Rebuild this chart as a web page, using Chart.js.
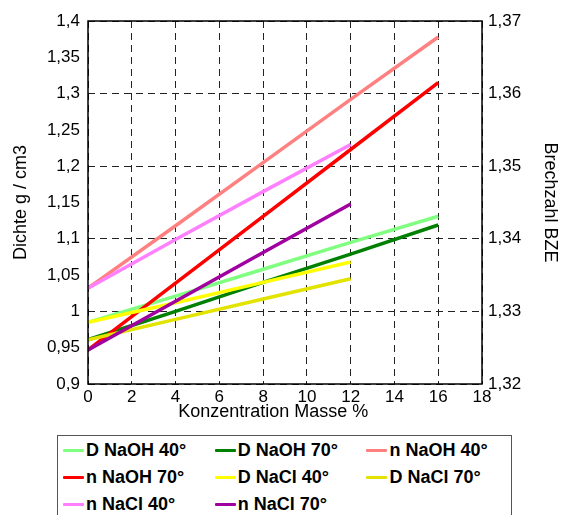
<!DOCTYPE html>
<html>
<head>
<meta charset="utf-8">
<script src="https://cdn.jsdelivr.net/npm/chart.js@4/dist/chart.umd.min.js"></script>
<style>
  html, body { margin: 0; padding: 0; background: #fff; }
  #wrap { position: relative; width: 561px; height: 515px; overflow: hidden; background: #fff; }
  #chart { position: absolute; left: 0; top: 0; }
  #legend {
    position: absolute; left: 57px; top: 435px; width: 455px; height: 110px;
    border: 1px solid #555; box-sizing: border-box;
    font-family: "Liberation Sans", Arial, sans-serif; font-weight: bold; font-size: 18px; color: #000;
  }
  .item { position: absolute; display: flex; align-items: center; height: 22px; white-space: nowrap; }
  .swatch { width: 21px; height: 3px; margin-right: 2px; border-radius: 1px; }
</style>
</head>
<body>
<div id="wrap">
  <canvas id="chart" width="561" height="435"></canvas>
  <div id="legend"></div>
</div>
<script>
// Concentration (mass %) at which each series was measured
const concNaOH = [0, 4, 8, 12, 16];
const concNaCl = [0, 4, 8, 12];

// Density g/cm3 (left axis)
const dNaOH40 = [0.985, 1.021, 1.058, 1.095, 1.131];
const dNaOH70 = [0.961, 1.000, 1.040, 1.079, 1.119];
const dNaCl40 = [0.985, 1.012, 1.040, 1.068];
const dNaCl70 = [0.961, 0.989, 1.017, 1.045];

// Refractive index BZE (right axis)
const nNaOH40 = [1.3332, 1.3418, 1.3505, 1.3592, 1.3678];
const nNaOH70 = [1.3247, 1.3339, 1.3431, 1.3523, 1.3615];
const nNaCl40 = [1.3332, 1.3399, 1.3465, 1.3530];
const nNaCl70 = [1.3247, 1.3314, 1.3381, 1.3448];

const seriesNames = ['D NaOH 40°', 'D NaOH 70°', 'n NaOH 40°', 'n NaOH 70°',
                     'D NaCl 40°', 'D NaCl 70°', 'n NaCl 40°', 'n NaCl 70°'];
const seriesColors = ['#80ff80', '#008000', '#ff8080', '#ff0000',
                      '#ffff00', '#e3e300', '#ff80ff', '#a000a0'];

const xLabels = [0, 2, 4, 6, 8, 10, 12, 14, 16, 18];
const xTitle = 'Konzentration Masse %';

function pts(xs, ys) { return xs.map((x, i) => ({ x: x, y: ys[i] })); }

const seriesData = [
  { data: pts(concNaOH, dNaOH40), axis: 'y' },
  { data: pts(concNaOH, dNaOH70), axis: 'y' },
  { data: pts(concNaOH, nNaOH40), axis: 'y2' },
  { data: pts(concNaOH, nNaOH70), axis: 'y2' },
  { data: pts(concNaCl, dNaCl40), axis: 'y' },
  { data: pts(concNaCl, dNaCl70), axis: 'y' },
  { data: pts(concNaCl, nNaCl40), axis: 'y2' },
  { data: pts(concNaCl, nNaCl70), axis: 'y2' }
];

const datasets = seriesData.map((s, i) => ({
  label: seriesNames[i],
  data: s.data,
  yAxisID: s.axis,
  borderColor: seriesColors[i],
  backgroundColor: seriesColors[i],
  borderWidth: 3.5,
  pointRadius: 0,
  tension: 0,
  fill: false,
  order: 8 - i
}));

const FONT = '"Liberation Sans", Arial, sans-serif';
const commaNum = v => String(Number(v.toFixed(3))).replace('.', ',');

// Solid frame around the plotting area, plus the x-axis caption
const frame = {
  id: 'frame',
  afterDatasetsDraw(chart) {
    const { ctx, chartArea: a } = chart;
    ctx.save();
    ctx.strokeStyle = '#000';
    ctx.lineWidth = 1.5;
    ctx.strokeRect(a.left, a.top, a.right - a.left, a.bottom - a.top);
    ctx.restore();
  },
  afterDraw(chart) {
    const { ctx, chartArea: a } = chart;
    ctx.save();
    ctx.fillStyle = '#000';
    ctx.font = '18px ' + FONT;
    ctx.textAlign = 'center';
    ctx.textBaseline = 'middle';
    ctx.fillText(xTitle, a.left + (a.right - a.left) * 0.47, 412);
    ctx.restore();
  }
};

const chart = new Chart(document.getElementById('chart'), {
  type: 'line',
  data: { datasets: datasets },
  plugins: [frame],
  options: {
    responsive: false,
    animation: false,
    layout: { padding: { top: 21, left: 0, right: 0, bottom: 0 } },
    plugins: { legend: { display: false }, tooltip: { enabled: false } },
    scales: {
      x: {
        type: 'linear', min: 0, max: 18,
        afterBuildTicks: s => { s.ticks = xLabels.map(v => ({ value: v })); },
        afterFit: s => { s.height = 51; },
        ticks: { color: '#000', font: { family: FONT, size: 17 }, padding: 3, maxRotation: 0 },
        grid: { color: '#222', lineWidth: 1, drawTicks: false },
        border: { display: false, dash: [7, 5] },
        title: { display: false }
      },
      y: {
        position: 'left', min: 0.9, max: 1.4,
        ticks: { stepSize: 0.05, color: '#000', font: { family: FONT, size: 17 }, padding: 8,
                 callback: v => commaNum(v) },
        afterFit: s => { s.width = 88; },
        grid: { display: false, drawTicks: false },
        border: { display: false },
        title: { display: true, text: 'Dichte g / cm3', color: '#000',
                 font: { family: FONT, size: 18 }, padding: { top: 10, bottom: 0 } }
      },
      y2: {
        position: 'right', min: 1.32, max: 1.37,
        ticks: { stepSize: 0.01, color: '#000', font: { family: FONT, size: 17 }, padding: 6,
                 callback: v => commaNum(v) },
        afterFit: s => { s.width = 79; },
        grid: { color: '#222', lineWidth: 1, drawTicks: false, drawOnChartArea: true },
        border: { display: false, dash: [7, 5] },
        title: { display: true, text: 'Brechzahl BZE', color: '#000',
                 font: { family: FONT, size: 18 }, padding: { top: 0, bottom: 0 } }
      }
    }
  }
});

// Legend laid out in three fixed columns from the chart's datasets
const legend = document.getElementById('legend');
chart.data.datasets.forEach((ds, i) => {
  const col = i % 3, row = Math.floor(i / 3);
  const item = document.createElement('div');
  item.className = 'item';
  item.style.left = (5 + col * 151.7) + 'px';
  item.style.top = (3 + row * 27) + 'px';
  const sw = document.createElement('span');
  sw.className = 'swatch';
  sw.style.background = ds.borderColor;
  const txt = document.createElement('span');
  txt.textContent = ds.label;
  item.appendChild(sw);
  item.appendChild(txt);
  legend.appendChild(item);
});
</script>
</body>
</html>
